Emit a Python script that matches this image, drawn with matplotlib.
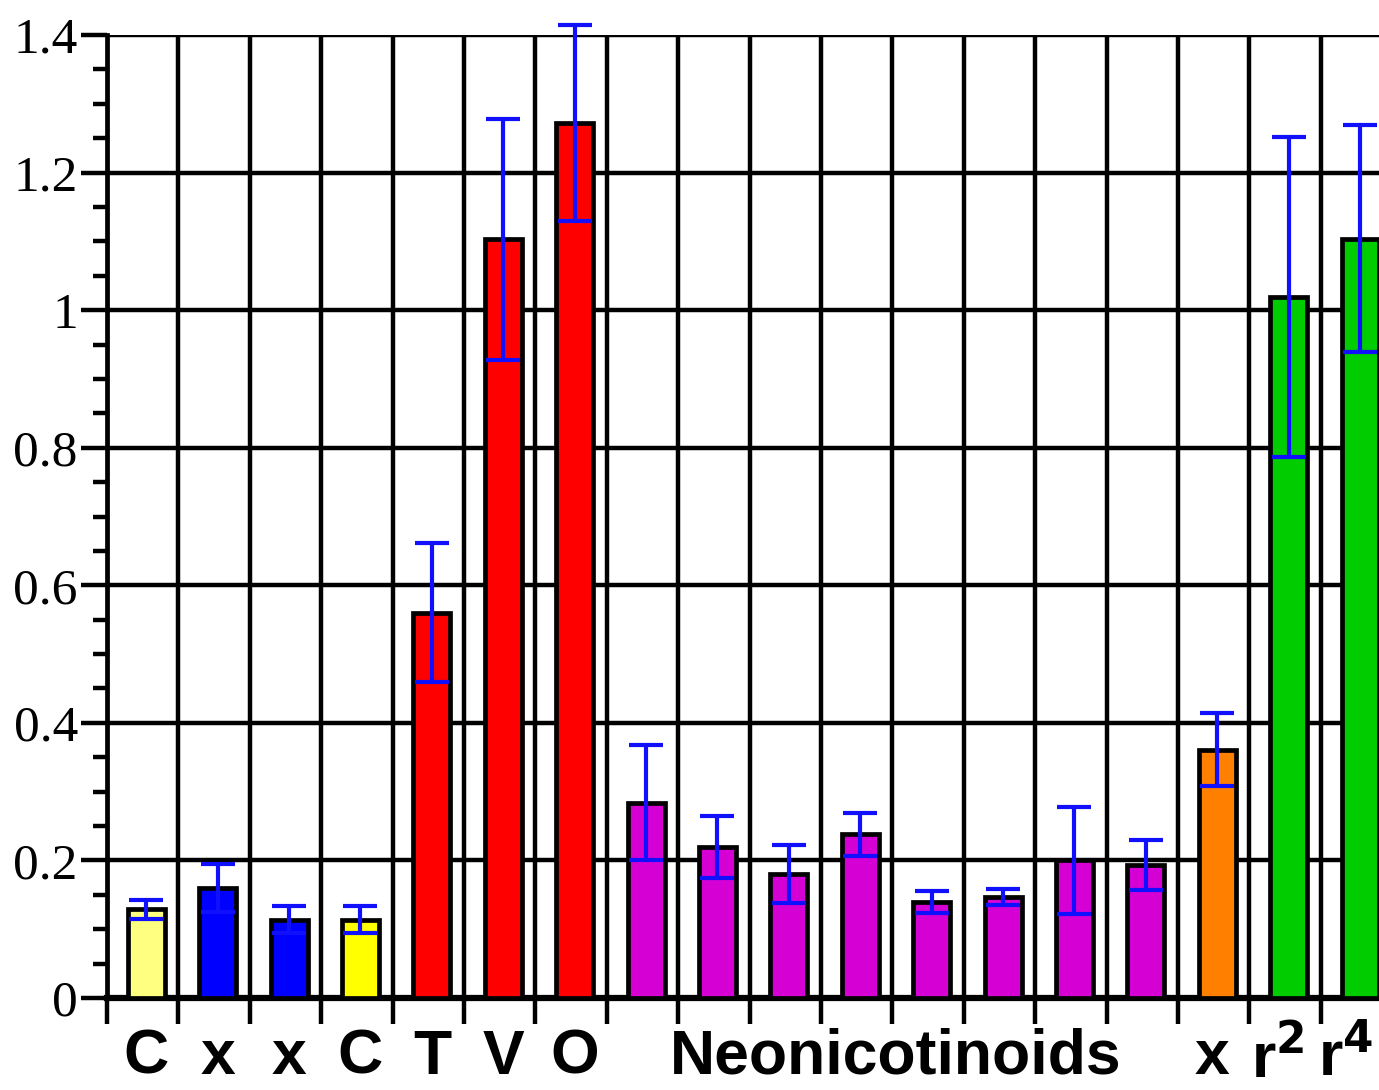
import numpy as np
import matplotlib.pyplot as plt

# bar data
values = [0.129, 0.160, 0.114, 0.114, 0.560, 1.103, 1.272,
          0.284, 0.219, 0.180, 0.238, 0.140, 0.147, 0.200, 0.193,
          0.361, 1.019, 1.104]
errors = [0.014, 0.035, 0.020, 0.020, 0.101, 0.175, 0.142,
          0.084, 0.045, 0.042, 0.031, 0.016, 0.012, 0.078, 0.036,
          0.053, 0.233, 0.165]
colors = ["#ffff80", "#0000ff", "#0000ff", "#ffff00", "#ff0000", "#ff0000", "#ff0000",
          "#d400d4", "#d400d4", "#d400d4", "#d400d4", "#d400d4", "#d400d4", "#d400d4", "#d400d4",
          "#ff8000", "#00cc00", "#00cc00"]
single_labels = {0: "C", 1: "x", 2: "x", 3: "C", 4: "T", 5: "V", 6: "O",
                 15: "x", 16: "r$^\\mathbf{2}$", 17: "r$^\\mathbf{4}$"}
group_label = "Neonicotinoids"
group_span = (7, 14)

fig = plt.figure(figsize=(13.79, 10.90), dpi=100)
ax = fig.add_axes([107 / 1379, 92 / 1090, 18 * 71.4 / 1379, 963 / 1090])

x = np.arange(len(values)) + 0.55
ax.bar(x, values, width=0.52, color=colors, edgecolor="black", linewidth=3.4, zorder=3)
ax.errorbar(x, values, yerr=errors, fmt="none", ecolor="#1010ff", elinewidth=3,
            capsize=12.5, capthick=3, zorder=4, clip_on=False)

ax.set_xlim(0, 18)
ax.set_ylim(0, 1.4)

# grid
ax.set_xticks(np.arange(0, 19))
ax.set_xticklabels([])
ax.set_yticks(np.arange(0, 1.41, 0.2))
ax.set_yticklabels(["0", "0.2", "0.4", "0.6", "0.8", "1", "1.2", "1.4"])
ax.set_yticks(np.arange(0, 1.41, 0.05), minor=True)
ax.grid(True, which="major", color="black", linewidth=3.2, zorder=1)
ax.set_axisbelow(True)

ax.tick_params(axis="x", which="major", direction="out", length=19, width=3.2, color="black")
ax.tick_params(axis="y", which="major", direction="out", length=19, width=3.2, pad=2,
               labelsize=37)
ax.tick_params(axis="y", which="minor", direction="out", length=10, width=3.2)
for lab in ax.get_yticklabels():
    lab.set_fontfamily("Liberation Serif")

for side in ["top", "right"]:
    ax.spines[side].set_visible(False)
ax.spines["left"].set_linewidth(3.4)
ax.spines["bottom"].set_linewidth(4.5)

# category labels
tr = ax.get_xaxis_transform()
shift = {16: -0.15, 17: -0.2, 15: -0.08}
for i, s in single_labels.items():
    ax.text(x[i] + shift.get(i, 0), -0.031, s, transform=tr, ha="center", va="top",
            fontsize=45, fontweight="bold", fontfamily="Liberation Sans")
mid = (x[group_span[0]] + x[group_span[1]]) / 2
ax.text(mid, -0.031, group_label, transform=tr, ha="center", va="top",
        fontsize=45, fontweight="bold", fontfamily="Liberation Sans")

fig.savefig("out.png", dpi=100)
